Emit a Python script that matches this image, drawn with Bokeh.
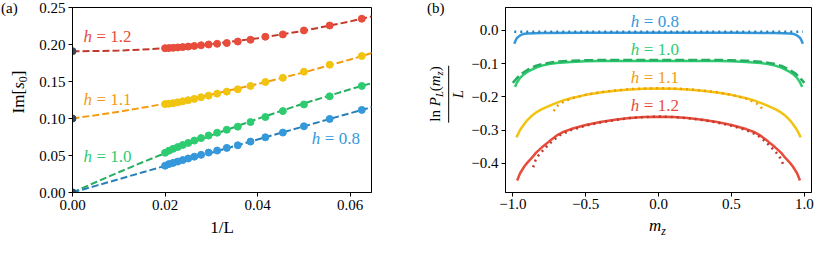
from bokeh.plotting import figure
from bokeh.layouts import row, column
from bokeh.models import Range1d, Label, FixedTicker, Div
from bokeh.embed import file_html
from bokeh.resources import INLINE

# ---------------- panel (a) data ----------------
inv_L = [0.0625, 0.05556, 0.05, 0.04545, 0.04167, 0.03846, 0.03571, 0.03333, 0.03125,
         0.02941, 0.02778, 0.02632, 0.025, 0.02381, 0.02273, 0.02174, 0.02083, 0.02]
im_h12 = [0.2348, 0.2257, 0.2190, 0.2136, 0.2105, 0.2064, 0.2040, 0.2020, 0.2010,
          0.2000, 0.1990, 0.1980, 0.1972, 0.1965, 0.1960, 0.1955, 0.1952, 0.1950]
im_h11 = [0.1844, 0.1727, 0.1632, 0.1550, 0.1493, 0.1440, 0.1394, 0.1363, 0.1336,
          0.1309, 0.1287, 0.1265, 0.1248, 0.1232, 0.1218, 0.1207, 0.1200, 0.1195]
im_h10 = [0.1440, 0.1300, 0.1190, 0.1100, 0.1020, 0.0952, 0.0890, 0.0848, 0.0808,
          0.0770, 0.0735, 0.0702, 0.0670, 0.0642, 0.0614, 0.0590, 0.0565, 0.0537]
im_h08 = [0.1116, 0.0994, 0.0895, 0.0810, 0.0746, 0.0688, 0.0638, 0.0603, 0.0567,
          0.0540, 0.0509, 0.0484, 0.0460, 0.0438, 0.0418, 0.0400, 0.0384, 0.0362]

fit_x = [0.0, 0.005, 0.01, 0.015, 0.02, 0.03, 0.04, 0.05, 0.06, 0.065]
fit_h12 = [0.191, 0.1911, 0.1918, 0.1931, 0.1950, 0.2005, 0.2084, 0.2186, 0.2312, 0.2384]
fit_h11 = [0.100, 0.1044, 0.1092, 0.1144, 0.1200, 0.1325, 0.1466, 0.1623, 0.1797, 0.1890]
fit_h10 = [0.0, 0.0139, 0.0274, 0.0405, 0.0531, 0.0772, 0.0996, 0.1204, 0.1395, 0.1484]
fit_h08 = [0.0, 0.0090, 0.0180, 0.0270, 0.0359, 0.0537, 0.0716, 0.0894, 0.1072, 0.1160]

extrap_x = [0.0, 0.0, 0.0, 0.0]
extrap_y = [0.191, 0.100, 0.0, 0.0]

yticks_a = [0.0, 0.05, 0.10, 0.15, 0.20, 0.25]
ytick_labels_a = ["0.00", "0.05", "0.10", "0.15", "0.20", "0.25"]
xticks_a = [0.0, 0.02, 0.04, 0.06]
xtick_labels_a = ["0.00", "0.02", "0.04", "0.06"]

# ---------------- panel (b) data ----------------
mz_red = [-0.97, -0.95, -0.92, -0.90, -0.87, -0.84, -0.80, -0.75, -0.70, -0.65, -0.60, -0.50, -0.40,
          -0.30, -0.20, -0.10, 0.00, 0.10, 0.20, 0.30, 0.40, 0.50, 0.60, 0.65, 0.70, 0.75, 0.80,
          0.84, 0.87, 0.90, 0.92, 0.95, 0.97]
red_theory = [-0.452, -0.430, -0.409, -0.398, -0.384, -0.368, -0.352, -0.334, -0.317, -0.305, -0.297,
              -0.285, -0.276, -0.269, -0.264, -0.261, -0.260, -0.261, -0.264, -0.269, -0.276, -0.285,
              -0.297, -0.305, -0.317, -0.334, -0.352, -0.368, -0.384, -0.398, -0.409, -0.430, -0.452]
mz_red_num = [-0.86, -0.845, -0.82, -0.79, -0.76, -0.72, -0.68, -0.60, -0.50, -0.40, -0.30, -0.20,
              -0.10, 0.00, 0.10, 0.20, 0.30, 0.40, 0.50, 0.60, 0.68, 0.72, 0.76, 0.79, 0.82, 0.845, 0.86]
red_num = [-0.412, -0.392, -0.374, -0.360, -0.346, -0.330, -0.316, -0.300, -0.287, -0.277, -0.270,
           -0.264, -0.261, -0.259, -0.261, -0.264, -0.270, -0.277, -0.287, -0.300, -0.316, -0.330,
           -0.346, -0.360, -0.374, -0.392, -0.412]

mz_yel = [-0.975, -0.95, -0.92, -0.90, -0.87, -0.84, -0.80, -0.75, -0.70, -0.65, -0.60, -0.50, -0.40,
          -0.30, -0.20, -0.10, 0.00, 0.10, 0.20, 0.30, 0.40, 0.50, 0.60, 0.65, 0.70, 0.75, 0.80,
          0.84, 0.87, 0.90, 0.92, 0.95, 0.975]
yel_theory = [-0.322, -0.300, -0.281, -0.270, -0.257, -0.247, -0.237, -0.227, -0.218, -0.210, -0.204,
              -0.194, -0.187, -0.182, -0.178, -0.176, -0.175, -0.176, -0.178, -0.182, -0.187, -0.194,
              -0.204, -0.210, -0.218, -0.227, -0.237, -0.247, -0.257, -0.270, -0.281, -0.300, -0.322]
mz_yel_num = [-0.72, -0.70, -0.67, -0.63, -0.60, -0.50, -0.40, -0.30, -0.20, -0.10, 0.00,
              0.10, 0.20, 0.30, 0.40, 0.50, 0.60, 0.63, 0.67, 0.70, 0.72]
yel_num = [-0.243, -0.229, -0.219, -0.211, -0.205, -0.194, -0.186, -0.181, -0.177, -0.175, -0.174,
           -0.175, -0.177, -0.181, -0.186, -0.194, -0.205, -0.211, -0.219, -0.229, -0.243]

mz_grn = [-0.985, -0.97, -0.95, -0.92, -0.90, -0.87, -0.84, -0.80, -0.75, -0.70, -0.60, -0.50, -0.40,
          -0.30, -0.20, -0.10, 0.00, 0.10, 0.20, 0.30, 0.40, 0.50, 0.60, 0.70, 0.75, 0.80, 0.84,
          0.87, 0.90, 0.92, 0.95, 0.97, 0.985]
grn_theory = [-0.170, -0.156, -0.143, -0.131, -0.125, -0.118, -0.112, -0.106, -0.101, -0.098, -0.095,
              -0.093, -0.092, -0.092, -0.092, -0.092, -0.092, -0.092, -0.092, -0.092, -0.092, -0.093,
              -0.095, -0.098, -0.101, -0.106, -0.112, -0.118, -0.125, -0.131, -0.143, -0.156, -0.170]
mz_grn_num = [-1.0, -0.97, -0.94, -0.90, -0.85, -0.80, -0.70, -0.60, -0.50, -0.40, -0.30, -0.20, -0.10,
              0.00, 0.10, 0.20, 0.30, 0.40, 0.50, 0.60, 0.70, 0.80, 0.85, 0.90, 0.94, 0.97, 1.0]
grn_num = [-0.158, -0.143, -0.130, -0.119, -0.108, -0.101, -0.094, -0.091, -0.090, -0.089, -0.089,
           -0.089, -0.089, -0.089, -0.089, -0.089, -0.089, -0.089, -0.090, -0.091, -0.094, -0.101,
           -0.108, -0.119, -0.130, -0.143, -0.158]

mz_blu = [-0.99, -0.98, -0.97, -0.95, -0.93, -0.90, -0.80, -0.50, 0.00, 0.50, 0.80, 0.90, 0.93,
          0.95, 0.97, 0.98, 0.99]
blu_theory = [-0.040, -0.030, -0.022, -0.015, -0.011, -0.009, -0.008, -0.007, -0.007, -0.007, -0.008,
              -0.009, -0.011, -0.015, -0.022, -0.030, -0.040]
mz_blu_num = [-0.99, 0.99]
blu_num = [-0.004, -0.004]

yticks_b = [-0.4, -0.3, -0.2, -0.1, 0.0]
ytick_labels_b = ["\u22120.4", "\u22120.3", "\u22120.2", "\u22120.1", "0.0"]
xticks_b = [-1.0, -0.5, 0.0, 0.5, 1.0]
xtick_labels_b = ["\u22121.0", "\u22120.5", "0.0", "0.5", "1.0"]

SERIF = "Liberation Serif"
RED, RED_D = "#e74c3c", "#c0392b"
YEL, YEL_D = "#f1c40f", "#f39c12"
GRN, GRN_D = "#2ecc71", "#27ae60"
BLU, BLU_D = "#3498db", "#2980b9"
DARK = "#34495e"


def style(p):
    p.grid.visible = False
    p.outline_line_color = "black"
    p.outline_line_alpha = 1.0
    p.outline_line_width = 1
    p.background_fill_color = "white"
    p.border_fill_color = "white"
    for ax in (p.xaxis, p.yaxis):
        ax.axis_line_color = "black"
        ax.major_tick_line_color = "black"
        ax.major_tick_out = 4
        ax.major_tick_in = 0
        ax.minor_tick_out = 0
        ax.minor_tick_in = 0
        ax.major_label_text_font = SERIF
        ax.major_label_text_font_size = "15px"
        ax.major_label_text_color = "black"
        ax.major_label_standoff = 3
        ax.axis_label_text_font = SERIF
        ax.axis_label_text_font_size = "17px"
        ax.axis_label_text_font_style = "normal"
        ax.axis_label_text_color = "black"


def hlabel(p, x, y, val, color):
    p.add_layout(Label(x=x, y=y, text="h", text_font=SERIF, text_font_style="italic",
                       text_font_size="17px", text_color=color, text_baseline="middle",
                       text_align="left"))
    p.add_layout(Label(x=x, y=y, x_offset=13, text="= " + val, text_font=SERIF,
                       text_font_size="17px", text_color=color, text_baseline="middle",
                       text_align="left"))


BOX = ("position:relative;width:{w}px;height:{h}px;font-family:'Liberation Serif',serif;"
       "color:black;line-height:1;")
ROT = ("position:absolute;left:{x}px;top:{y}px;white-space:nowrap;"
       "transform:translate(-50%,-50%) rotate(-90deg);")
SUB = "font-size:0.7em;vertical-align:-0.3em;"


def html_box(w, h, inner):
    return Div(text='<div style="%s">%s</div>' % (BOX.format(w=w, h=h), inner),
               width=w, height=h, margin=0)


# ---------------- label strip left of panel (a) ----------------
lab_a = html_box(36, 242,
                 '<span style="position:absolute;left:1px;top:1px;font-size:15px;">(a)</span>'
                 '<div style="%s font-size:17px;">Im[<i>s</i><span style="%s">0</span>]</div>'
                 % (ROT.format(x=20, y=92), SUB))

# ---------------- panel (a) ----------------
p1 = figure(width=371, height=242, output_backend="svg", toolbar_location=None,
            x_range=Range1d(0, 0.0646), y_range=Range1d(0, 0.25),
            min_border_left=33, min_border_right=36, min_border_top=7, min_border_bottom=50)
style(p1)
p1.xaxis.ticker = FixedTicker(ticks=xticks_a)
p1.yaxis.ticker = FixedTicker(ticks=yticks_a)
p1.xaxis.major_label_overrides = dict(zip(xticks_a, xtick_labels_a))
p1.yaxis.major_label_overrides = dict(zip(yticks_a, ytick_labels_a))
p1.xaxis.axis_label = "1/L"

for fy, pts, cl, cd in ((fit_h12, im_h12, RED, RED_D), (fit_h11, im_h11, YEL, YEL_D),
                        (fit_h10, im_h10, GRN, GRN_D), (fit_h08, im_h08, BLU, BLU_D)):
    p1.line(fit_x, fy, line_color=cd, line_width=2, line_dash="7 3")
    p1.scatter(inv_L, pts, size=7, fill_color=cl, line_color=cl)
p1.scatter(extrap_x, extrap_y, size=7, fill_color=DARK, line_color=DARK)

hlabel(p1, 0.00235, 0.2105, "1.2", RED)
hlabel(p1, 0.00235, 0.1255, "1.1", YEL_D)
hlabel(p1, 0.00235, 0.0486, "1.0", GRN)
hlabel(p1, 0.0517, 0.0729, "0.8", BLU)

# ---------------- label strip left of panel (b) ----------------
frac = ('<div style="display:inline-flex;flex-direction:column;align-items:center;font-size:15px;">'
        '<span style="padding:0 1px 2px 1px;border-bottom:1px solid black;">ln <i>P</i>'
        '<span style="%s"><i>L</i></span>(<i>m</i><span style="%s"><i>z</i></span>)</span>'
        '<span style="padding-top:2px;"><i>L</i></span></div>' % (SUB, SUB))
lab_b = html_box(60, 242,
                 '<span style="position:absolute;left:20px;top:1px;font-size:15px;">(b)</span>'
                 '<div style="%s">%s</div>' % (ROT.format(x=40, y=94), frac))

# ---------------- panel (b) ----------------
p2 = figure(width=347, height=216, output_backend="svg", toolbar_location=None,
            x_range=Range1d(-1.05, 1.049), y_range=Range1d(-0.488, 0.069),
            min_border_left=38, min_border_right=3, min_border_top=7, min_border_bottom=24)
style(p2)
p2.xaxis.major_label_standoff = 2
p2.xaxis.ticker = FixedTicker(ticks=xticks_b)
p2.yaxis.ticker = FixedTicker(ticks=yticks_b)
p2.xaxis.major_label_overrides = dict(zip(xticks_b, xtick_labels_b))
p2.yaxis.major_label_overrides = dict(zip(yticks_b, ytick_labels_b))

p2.line(mz_red, red_theory, line_color=RED, line_width=2.5)
p2.line(mz_red_num, red_num, line_color=RED_D, line_width=2.5, line_dash="2 4")
p2.line(mz_yel, yel_theory, line_color=YEL, line_width=2.5)
p2.line(mz_yel_num, yel_num, line_color=YEL_D, line_width=2.5, line_dash="2 4")
p2.line(mz_grn, grn_theory, line_color=GRN, line_width=2.5)
p2.line(mz_grn_num, grn_num, line_color=GRN_D, line_width=2.5, line_dash="9 4")
p2.line(mz_blu, blu_theory, line_color=BLU, line_width=2.5)
p2.line(mz_blu_num, blu_num, line_color=BLU_D, line_width=2.5, line_dash="2 4")

hlabel(p2, -0.19, 0.028, "0.8", BLU)
hlabel(p2, -0.19, -0.057, "1.0", GRN)
hlabel(p2, -0.19, -0.142, "1.1", YEL_D)
hlabel(p2, -0.19, -0.227, "1.2", RED)

# ---------------- x label strip under panel (b) ----------------
lab_m = html_box(347, 26,
                 '<span style="position:absolute;left:182px;top:1px;font-size:17px;">'
                 '<i>m</i><span style="%s"><i>z</i></span></span>' % SUB)

layout = row(lab_a, p1, lab_b, column(p2, lab_m, spacing=0), spacing=0)
open("out.html", "w").write(file_html(layout, INLINE))
